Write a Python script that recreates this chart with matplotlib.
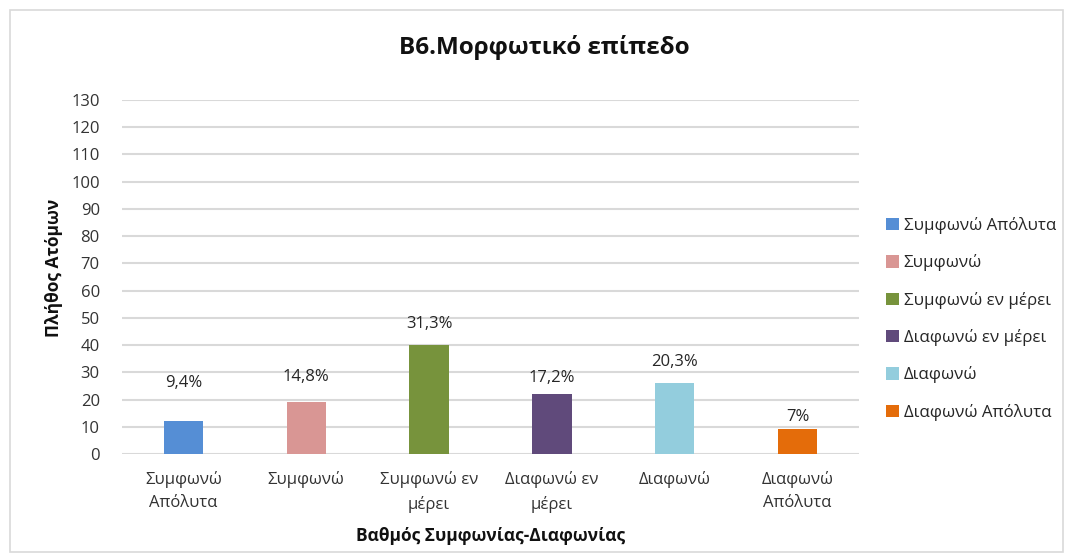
import matplotlib
matplotlib.use("Agg")
import matplotlib.pyplot as plt
from matplotlib.patches import Patch, Rectangle

plt.rcParams['font.family'] = ['Open Sans', 'DejaVu Sans']

categories = ["Συμφωνώ\nΑπόλυτα", "Συμφωνώ", "Συμφωνώ εν\nμέρει", "Διαφωνώ εν\nμέρει", "Διαφωνώ", "Διαφωνώ\nΑπόλυτα"]
legend_labels = ["Συμφωνώ Απόλυτα", "Συμφωνώ", "Συμφωνώ εν μέρει", "Διαφωνώ εν μέρει", "Διαφωνώ", "Διαφωνώ Απόλυτα"]
counts = [12, 19, 40, 22, 26, 9]
pct_labels = ["9,4%", "14,8%", "31,3%", "17,2%", "20,3%", "7%"]
colors = ["#558ED5", "#D99694", "#77933C", "#604A7B", "#93CDDD", "#E46C0A"]
label_offsets_px = [38, 25, 21, 16, 21, 12]

W, H = 1073, 557
fig = plt.figure(figsize=(W / 100, H / 100), dpi=100)
ax = fig.add_axes([122 / W, 1 - 454 / H, (859 - 122) / W, (454 - 100) / H])

x = list(range(len(counts)))
ax.bar(x, counts, width=0.32, color=colors, zorder=3)
ax.set_xlim(-0.5, len(counts) - 0.5)
ax.set_ylim(0, 130)
ax.set_yticks(range(0, 131, 10))
ax.set_xticks(x)
ax.set_xticklabels(categories, fontsize=12, color="#333333", linespacing=1.65)
ax.tick_params(axis='y', labelsize=12, colors="#333333", length=0, pad=16)
ax.tick_params(axis='x', length=0, pad=12)
ax.grid(axis='y', color='#d9d9d9', linewidth=1.5, zorder=0)
for s in ax.spines.values():
    s.set_visible(False)

for xi, c, lab, off in zip(x, counts, pct_labels, label_offsets_px):
    ax.annotate(lab, (xi, c), xytext=(0, off), textcoords='offset pixels',
                ha='center', va='center', fontsize=12, color='#262626')

ax.set_xlabel("Βαθμός Συμφωνίας-Διαφωνίας", fontsize=12.5, fontweight='bold', color='#111111')
ax.xaxis.set_label_coords(0.5, -(536 - 454) / (454 - 100), transform=ax.transAxes)
ax.xaxis.label.set_va('center')
ax.set_ylabel("Πλήθος Ατόμων", fontsize=12.5, fontweight='bold', color='#111111')
ax.yaxis.set_label_coords(-(122 - 54) / (859 - 122), (454 - 268) / (454 - 100))
ax.yaxis.label.set_va('center')

fig.text(544 / W, 1 - 47 / H, "Β6.Μορφωτικό επίπεδο", ha='center', va='center',
         fontsize=17.5, fontweight='bold', color='#111111')

handles = [Patch(facecolor=c, edgecolor='none') for c in colors]
fig.legend(handles, legend_labels, loc='upper left', bbox_to_anchor=(886 / W, 1 - 217 / H),
           frameon=False, fontsize=12.2, labelspacing=1.2, handlelength=0.75, handleheight=0.75,
           handletextpad=0.3, borderpad=0, borderaxespad=0, labelcolor='#262626')

fig.patches.append(Rectangle((10 / W, 1 - 552 / H), (1063 - 10) / W, (552 - 10) / H,
                             transform=fig.transFigure, fill=False, edgecolor='#d9d9d9', linewidth=1.2))

fig.savefig("out.png", dpi=100, facecolor='white')
